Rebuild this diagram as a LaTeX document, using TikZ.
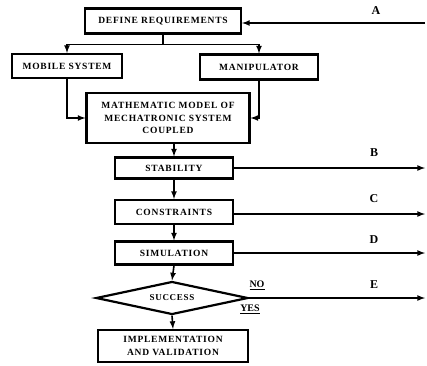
\documentclass[tikz,border=0pt]{standalone}
\usepackage{fontspec}
\setmainfont{Liberation Serif}
\usetikzlibrary{shapes.geometric}

\newfontfamily\boxfont[LetterSpace=8]{Liberation Serif}

\tikzset{
  block/.style = {draw, line width=2.2pt, fill=white, align=center,
    inner sep=1pt, font=\boxfont\fontsize{9.5}{12.5}\selectfont\bfseries},
  decision/.style = {draw, diamond, line width=2.2pt, fill=white, aspect=4.6,
    inner sep=1pt, font=\boxfont\fontsize{9}{10}\selectfont\bfseries},
  letter/.style = {font=\fontsize{12}{13}\selectfont\bfseries},
  answer/.style = {font=\fontsize{10}{11}\selectfont\bfseries},
}

\begin{document}
\begin{tikzpicture}[x=1pt, y=-1pt, >=latex, line width=1.6pt]
\useasboundingbox (0,0) rectangle (427,365);

% blocks
\node[block, minimum width=156pt, minimum height=25pt] (req) at (163,21) {DEFINE REQUIREMENTS};
\node[block, minimum width=110pt, minimum height=24pt] (mobile) at (67,66) {MOBILE SYSTEM};
\node[block, minimum width=118pt, minimum height=25pt] (manip) at (259,67) {MANIPULATOR};
\node[block, minimum width=163pt, minimum height=50pt] (model) at (168,118)
  {MATHEMATIC MODEL OF\\MECHATRONIC SYSTEM\\COUPLED};
\node[block, minimum width=118pt, minimum height=21pt] (stab) at (174,168) {STABILITY};
\node[block, minimum width=118pt, minimum height=24pt] (constr) at (174,212) {CONSTRAINTS};
\node[block, minimum width=118pt, minimum height=23pt] (sim) at (174,253) {SIMULATION};
\node[decision, minimum width=152pt, minimum height=33pt] (succ) at (172,298) {SUCCESS};
\node[block, minimum width=150pt, minimum height=32pt] (impl) at (173,346)
  {IMPLEMENTATION\\AND VALIDATION};

% outgoing ends
\coordinate (ea) at (425,23);
\coordinate (eb) at (425,168);
\coordinate (ec) at (425,214);
\coordinate (ed) at (425,253);
\coordinate (ee) at (425,298);

\node[letter] (la) at (376,11) {A};
\node[letter] (lb) at (374,153) {B};
\node[letter] (lc) at (374,199) {C};
\node[letter] (ld) at (374,240) {D};
\node[letter] (le) at (374,285) {E};
\node[answer] (no) at (257,285) {\underline{NO}};
\node[answer] (yes) at (250,309) {\underline{YES}};

% connectors
\draw[->] (ea) -- (req.east |- ea);
\draw (req.south) -- ++(0,10) coordinate (split);
\draw[->] (split) -| (mobile.north);
\draw[->] (split) -| (manip.north);
\draw[->] (mobile.south) |- (model.west);
\draw[->] (manip.south) |- (model.east);
\draw[->] (stab.north |- model.south) -- (stab.north);
\draw[->] (stab) -- (constr);
\draw[->] (constr) -- (sim);
\draw[->] (sim.south) -- (succ.north);
\draw[->] (succ.south) -- (impl.north);

\draw[->] (stab.east) -- (eb);
\draw[->] (constr.east |- ec) -- (ec);
\draw[->] (sim.east) -- (ed);
\draw[->] (succ.east) -- (ee);
\end{tikzpicture}
\end{document}
